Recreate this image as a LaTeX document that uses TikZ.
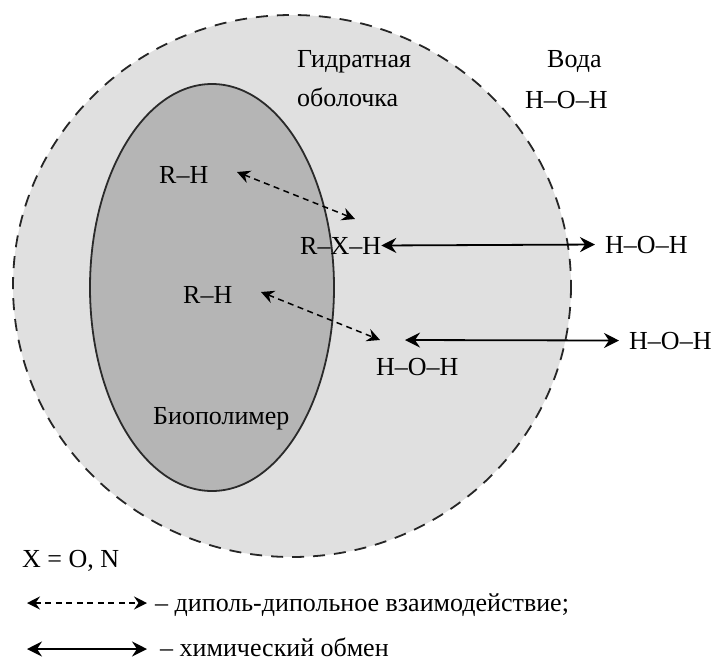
\documentclass[tikz,border=0pt]{standalone}
\usepackage{fontspec}
\setmainfont{Liberation Serif}
\usetikzlibrary{arrows.meta}
\definecolor{shellgray}{HTML}{E0E0E0}
\definecolor{polygray}{HTML}{B5B5B5}
\definecolor{polyedge}{HTML}{2A2A2A}
\begin{document}
\begin{tikzpicture}[x=1pt,y=-1pt,
  lbl/.style={anchor=base west, inner sep=0pt, font=\fontsize{26}{31}\selectfont},
  shellline/.style={draw=black!85, line width=1.8pt, dash pattern=on 12pt off 9pt, fill=shellgray},
  polyline/.style={draw=polyedge, line width=1.8pt, fill=polygray},
  solidarr/.style={line width=1.8pt, {Stealth[length=15pt,width=15pt,inset=5pt]}-{Stealth[length=15pt,width=15pt,inset=5pt]}},
  dasharr/.style={line width=1.5pt, dash pattern=on 6pt off 4.5pt, {Stealth[length=13pt,width=13pt,inset=4.5pt]}-{Stealth[length=13pt,width=13pt,inset=4.5pt]}}]
\useasboundingbox (0,0) rectangle (715,664);
\path[shellline] (292,286) ellipse [x radius=279, y radius=271];
\path[polyline] (212,287.5) ellipse [x radius=122, y radius=203.5];

\node[lbl] (gidr) at (297,67) {Гидратная};
\node[lbl] (obol) at (297,106) {оболочка};
\node[lbl] (voda) at (547,67) {Вода};
\node[lbl] (hohtop) at (525,108) {H–O–H};
\node[lbl] (rh1) at (159,183) {R–H};
\node[lbl] (rxh) at (300,254) {R–X–H};
\node[lbl] (rh2) at (183,303) {R–H};
\node[lbl] (bio) at (153,424) {Биополимер};
\node[lbl] (hohlow) at (376,375) {H–O–H};
\node[lbl] (hohr1) at (605,253) {H–O–H};
\node[lbl] (hohr2) at (629,349) {H–O–H};
\node[lbl] (xeq) at (22,567) {X = O, N};
\node[lbl] (leg1) at (155,611) {– диполь-дипольное взаимодействие;};
\node[lbl] (leg2) at (160,656) {– химический обмен};

\coordinate (d1s) at (237,172);
\coordinate (d1e) at (355,219);
\coordinate (d2s) at (261,292);
\coordinate (d2e) at (380,340);
\coordinate (s2s) at (405,340);
\coordinate (la) at (27,603);
\coordinate (lb) at (147,603);
\coordinate (lc) at (27,649);
\coordinate (ld) at (147,649);

\draw[solidarr] (rxh.east) -- ([xshift=-10pt]hohr1.west);
\draw[solidarr] (s2s) -- ([xshift=-10pt]hohr2.west);
\draw[dasharr] (d1s) -- (d1e);
\draw[dasharr] (d2s) -- (d2e);
\draw[dasharr] (la) -- (lb);
\draw[solidarr] (lc) -- (ld);
\end{tikzpicture}
\end{document}
